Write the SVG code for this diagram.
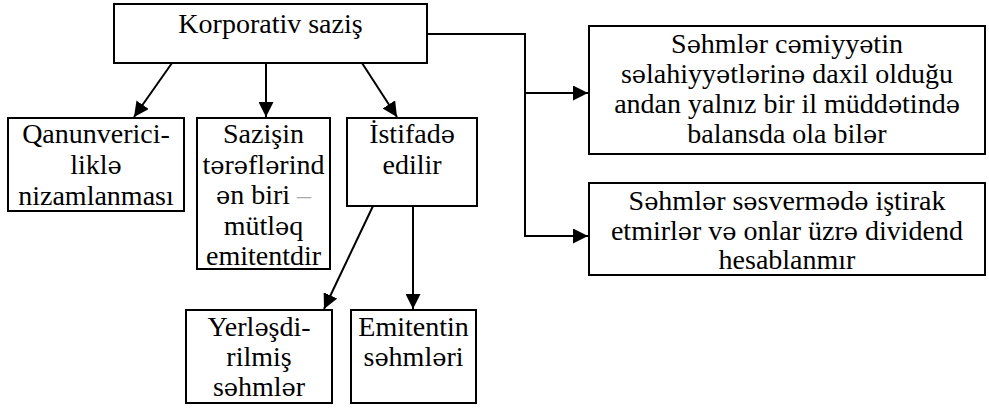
<svg xmlns="http://www.w3.org/2000/svg" width="989" height="409" viewBox="0 0 989 409">
  <style>
    .box { fill: #ffffff; stroke: #000000; stroke-width: 2; }
    .lbl { font-family: "Liberation Serif", "DejaVu Serif", serif; font-size: 28px; fill: #000000; text-anchor: middle; }
    /* schwa comes from DejaVu Serif, sized down to sit with the Times-metric letters */
    .e { font-family: "DejaVu Serif", serif; font-size: 24px; }
    .dash { fill: #aaaaaa; }
    .wire { fill: none; stroke: #000000; stroke-width: 2; }
  </style>
  <defs>
    <marker id="arrow" viewBox="0 0 15 15" refX="15" refY="7.5" markerWidth="15" markerHeight="15" markerUnits="userSpaceOnUse" orient="auto">
      <path d="M0,0 L15,7.5 L0,15 Z" fill="#000000"/>
    </marker>
  </defs>

  <rect width="989" height="409" fill="#ffffff"/>

  <!-- connectors -->
  <g id="connectors">
    <line class="wire" x1="172" y1="63" x2="134" y2="117" marker-end="url(#arrow)"/>
    <line class="wire" x1="266" y1="63" x2="266" y2="117" marker-end="url(#arrow)"/>
    <line class="wire" x1="362" y1="63" x2="397" y2="117" marker-end="url(#arrow)"/>
    <line class="wire" x1="373" y1="206" x2="324" y2="309" marker-end="url(#arrow)"/>
    <line class="wire" x1="413" y1="206" x2="413" y2="309" marker-end="url(#arrow)"/>
    <polyline class="wire" points="427,34 525,34 525,236 588,236" marker-end="url(#arrow)"/>
    <line class="wire" x1="525" y1="93" x2="588" y2="93" marker-end="url(#arrow)"/>
  </g>

  <!-- nodes -->
  <g id="node-korporativ">
    <rect class="box" x="114" y="4" width="313" height="59"/>
    <text class="lbl" x="270.5" y="33">Korporativ saziş</text>
  </g>

  <g id="node-qanunvericilik">
    <rect class="box" x="8" y="118" width="176" height="93"/>
    <text class="lbl" x="96" y="143">Qanunverici-</text>
    <text class="lbl" x="96" y="174">likl<tspan class="e">ə</tspan></text>
    <text class="lbl" x="96" y="205">nizamlanması</text>
  </g>

  <g id="node-terefler">
    <rect class="box" x="197" y="118" width="133" height="151"/>
    <text class="lbl" x="263.5" y="143">Sazişin</text>
    <text class="lbl" x="263.5" y="173.5">t<tspan class="e">ə</tspan>r<tspan class="e">ə</tspan>fl<tspan class="e">ə</tspan>rind</text>
    <text class="lbl" x="263.5" y="204"><tspan class="e">ə</tspan>n biri <tspan class="dash">–</tspan></text>
    <text class="lbl" x="263.5" y="234.5">mütl<tspan class="e">ə</tspan>q</text>
    <text class="lbl" x="263.5" y="265">emitentdir</text>
  </g>

  <g id="node-istifade">
    <rect class="box" x="347" y="118" width="130" height="88"/>
    <text class="lbl" x="412" y="143">İstifad<tspan class="e">ə</tspan></text>
    <text class="lbl" x="412" y="174">edilir</text>
  </g>

  <g id="node-yerlesdirilmis">
    <rect class="box" x="186" y="310" width="146" height="93"/>
    <text class="lbl" x="259" y="336">Yerl<tspan class="e">ə</tspan>şdi-</text>
    <text class="lbl" x="259" y="366">rilmiş</text>
    <text class="lbl" x="259" y="396">s<tspan class="e">ə</tspan>hml<tspan class="e">ə</tspan>r</text>
  </g>

  <g id="node-emitent">
    <rect class="box" x="351" y="310" width="125" height="93"/>
    <text class="lbl" x="413.5" y="336">Emitentin</text>
    <text class="lbl" x="413.5" y="366">s<tspan class="e">ə</tspan>hml<tspan class="e">ə</tspan>ri</text>
  </g>

  <g id="node-balans">
    <rect class="box" x="589" y="26" width="396" height="128"/>
    <text class="lbl" x="787" y="53">S<tspan class="e">ə</tspan>hml<tspan class="e">ə</tspan>r c<tspan class="e">ə</tspan>miyy<tspan class="e">ə</tspan>tin</text>
    <text class="lbl" x="787" y="83">s<tspan class="e">ə</tspan>lahiyy<tspan class="e">ə</tspan>tl<tspan class="e">ə</tspan>rin<tspan class="e">ə</tspan> daxil olduğu</text>
    <text class="lbl" x="787" y="113">andan yalnız bir il müdd<tspan class="e">ə</tspan>tind<tspan class="e">ə</tspan></text>
    <text class="lbl" x="787" y="143">balansda ola bil<tspan class="e">ə</tspan>r</text>
  </g>

  <g id="node-dividend">
    <rect class="box" x="589" y="183" width="396" height="92"/>
    <text class="lbl" x="787" y="210">S<tspan class="e">ə</tspan>hml<tspan class="e">ə</tspan>r s<tspan class="e">ə</tspan>sverm<tspan class="e">ə</tspan>d<tspan class="e">ə</tspan> iştirak</text>
    <text class="lbl" x="787" y="240">etmirl<tspan class="e">ə</tspan>r v<tspan class="e">ə</tspan> onlar üzr<tspan class="e">ə</tspan> dividend</text>
    <text class="lbl" x="787" y="269">hesablanmır</text>
  </g>
</svg>
